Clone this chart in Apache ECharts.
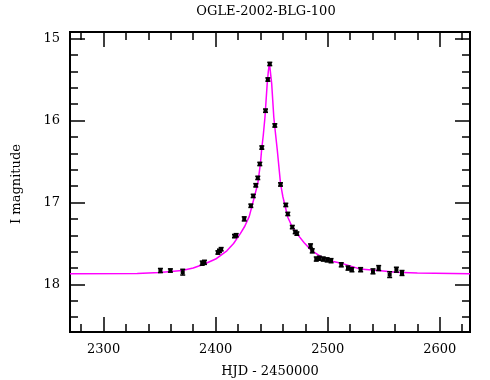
<!DOCTYPE html>
<html><head><meta charset="utf-8">
<script src="https://cdn.jsdelivr.net/npm/echarts@6/dist/echarts.min.js"></script>
<style>html,body{margin:0;padding:0;background:#fff}#c{width:490px;height:380px}</style>
</head><body><div id="c"></div>
<script>
const title = 'OGLE-2002-BLG-100';
const xLabel = 'HJD - 2450000';
const yLabel = 'I magnitude';
const xTickLabels = [2300, 2400, 2500, 2600];
const yTickLabels = [15, 16, 17, 18];
const xMinorTicks = [2280,2300,2320,2340,2360,2380,2400,2420,2440,2460,2480,2500,2520,2540,2560,2580,2600,2620];
const yMinorTicks = [15,15.2,15.4,15.6,15.8,16,16.2,16.4,16.6,16.8,17,17.2,17.4,17.6,17.8,18,18.2,18.4];

const obsHJD = [2350.7,2359.6,2370.6,2388.0,2390.0,2402.0,2403.4,2404.9,2416.8,2418.3,2425.5,2431.4,2433.5,2435.8,2437.6,2439.4,2441.2,2444.5,2446.6,2448.3,2452.8,2457.9,2462.6,2464.4,2468.4,2471.0,2472.5,2484.7,2486.2,2489.8,2492.5,2496.0,2499.5,2503.0,2512.1,2518.1,2521.6,2529.4,2540.4,2545.5,2555.3,2561.3,2566.3];
const obsMag = [17.83,17.83,17.85,17.74,17.73,17.61,17.59,17.57,17.41,17.40,17.20,17.04,16.92,16.79,16.70,16.53,16.33,15.88,15.50,15.31,16.06,16.78,17.03,17.14,17.30,17.36,17.38,17.53,17.59,17.69,17.68,17.69,17.70,17.71,17.76,17.80,17.82,17.82,17.84,17.80,17.88,17.82,17.86];
const obsErr = [0.025,0.02,0.035,0.025,0.025,0.02,0.02,0.02,0.02,0.02,0.025,0.02,0.02,0.02,0.02,0.02,0.02,0.02,0.02,0.02,0.02,0.02,0.02,0.02,0.02,0.02,0.02,0.025,0.025,0.025,0.025,0.025,0.025,0.025,0.025,0.025,0.025,0.025,0.03,0.03,0.035,0.03,0.03];

const modelHJD = [2270,2330,2350,2370,2380,2390,2400,2410,2416,2422,2426,2430,2434,2437.6,2440,2441,2442.5,2444,2446,2447,2448,2449.5,2450,2451.9,2453.5,2455,2457.9,2460,2464.4,2468,2472.5,2479,2485,2495,2505,2512,2528.5,2545,2561,2580,2627];
const modelMag = [17.87,17.865,17.855,17.83,17.80,17.75,17.69,17.59,17.50,17.38,17.29,17.17,16.96,16.77,16.52,16.36,16.18,15.96,15.55,15.40,15.30,15.30,15.55,15.96,16.17,16.36,16.77,16.93,17.18,17.29,17.38,17.49,17.58,17.67,17.72,17.74,17.81,17.83,17.85,17.86,17.87];

const XMIN = 2270, XMAX = 2627, YMIN = 14.92, YMAX = 18.58;
const FONT = 'DejaVu Serif';

const obs = obsHJD.map((d,i)=>[d, obsMag[i], obsErr[i]]);
const model = modelHJD.map((d,i)=>[d, modelMag[i]]);

function axisDef(kind, g, pos, ticks, len, labels){
  const a = {type:'value', gridIndex:g, position:pos,
    min: kind==='x'?XMIN:YMIN, max: kind==='x'?XMAX:YMAX,
    axisLine:{show:false}, splitLine:{show:false},
    axisTick:{show:true, inside:true, length:len, customValues:ticks, lineStyle:{color:'#000', width:1.5}},
    axisLabel: labels ? {show:true, color:'#000', fontFamily:FONT, fontSize:13, margin: kind==='x'?11:10,
      customValues:ticks, formatter: v => String(v)} : {show:false}
  };
  if (kind==='y') a.inverse = true;
  return a;
}

const gridRect = {left:70, top:32, width:400, height:300};
const chart = echarts.init(document.getElementById('c'), null, {renderer:'canvas'});
chart.setOption({
  animation:false,
  backgroundColor:'#fff',
  grid:[
    Object.assign({show:true, borderColor:'#000', borderWidth:2, backgroundColor:'transparent'}, gridRect),
    Object.assign({show:false}, gridRect)
  ],
  xAxis:[
    axisDef('x', 0, 'bottom', xTickLabels, 15, true),
    axisDef('x', 0, 'top', xTickLabels, 15, false),
    axisDef('x', 1, 'bottom', xMinorTicks, 8, false),
    axisDef('x', 1, 'top', xMinorTicks, 8, false)
  ],
  yAxis:[
    axisDef('y', 0, 'left', yTickLabels, 15, true),
    axisDef('y', 0, 'right', yTickLabels, 15, false),
    axisDef('y', 1, 'left', yMinorTicks, 8, false),
    axisDef('y', 1, 'right', yMinorTicks, 8, false)
  ],
  graphic:[
    {type:'text', x:266, y:12, style:{text:title, font:'13px "DejaVu Serif"', fill:'#000', align:'center', verticalAlign:'middle'}},
    {type:'text', x:270, y:372, style:{text:xLabel, font:'13px "DejaVu Serif"', fill:'#000', align:'center', verticalAlign:'middle'}},
    {type:'text', x:17, y:184, rotation:Math.PI/2, style:{text:yLabel, font:'13px "DejaVu Serif"', fill:'#000', align:'center', verticalAlign:'middle'}}
  ],
  series:[
    {type:'line', data:model, xAxisIndex:0, yAxisIndex:0, showSymbol:false, symbol:'none',
      lineStyle:{color:'#ff00ff', width:1.5}, z:3},
    {type:'custom', data:obs, xAxisIndex:0, yAxisIndex:0, z:4,
      renderItem:function(params, api){
        const x=api.value(0), y=api.value(1), e=api.value(2);
        const c=api.coord([x,y]), a=api.coord([x,y-e]), b=api.coord([x,y+e]);
        const st={stroke:'#000', lineWidth:1.5};
        return {type:'group', children:[
          {type:'line', shape:{x1:a[0],y1:a[1],x2:b[0],y2:b[1]}, style:st},
          {type:'line', shape:{x1:a[0]-2.5,y1:a[1],x2:a[0]+2.5,y2:a[1]}, style:st},
          {type:'line', shape:{x1:b[0]-2.5,y1:b[1],x2:b[0]+2.5,y2:b[1]}, style:st},
          {type:'rect', shape:{x:c[0]-2,y:c[1]-2,width:4,height:4}, style:{fill:'#000'}}
        ]};
      }}
  ]
});
</script></body></html>
